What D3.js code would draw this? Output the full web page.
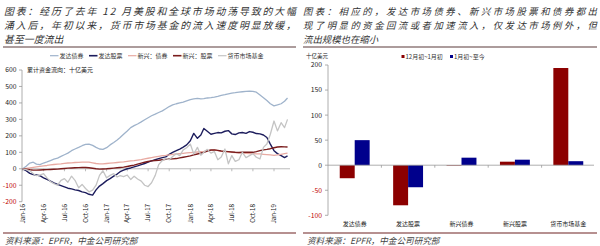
<!DOCTYPE html>
<html>
<head>
<meta charset="utf-8">
<script src="https://cdn.jsdelivr.net/npm/d3@7"></script>
<style>
body { margin: 0; background: #fff; }
text { font-family: "Noto Sans CJK SC", "Noto Sans", sans-serif; }
</style>
</head>
<body>
<svg id="chart" width="600" height="246"></svg>
<script>
// ---- data: left panel, cumulative flows (bn USD), half-month points Jan-16 .. Mar-19
var dates = d3.range(77).map(function(i){ return new Date(2016, Math.floor(i / 2), i % 2 ? 16 : 1); });

var dmBond = [0,15,35,40,28,25,35,42,50,58,65,75,85,95,110,120,130,140,148,150,
  142,130,120,118,128,145,160,175,190,210,230,250,262,272,285,298,310,322,332,342,
  352,365,378,388,395,400,405,412,420,425,428,424,426,430,432,435,440,446,450,455,
  460,462,466,468,470,472,470,465,448,432,415,395,382,388,395,410,430];
var dmEquity = [0,-12,-28,-35,-38,-42,-55,-65,-75,-85,-95,-102,-110,-118,-122,-128,-132,-140,-145,-155,
  -160,-128,-105,-90,-72,-60,-45,-32,-18,-8,0,5,12,18,25,32,40,48,55,62,
  68,72,88,100,110,120,132,145,170,215,185,205,245,228,210,215,220,218,228,232,
  212,208,218,220,215,226,222,214,212,205,190,150,110,92,80,68,78];
var emBond = [0,3,6,9,12,15,18,20,24,26,28,30,33,35,36,38,39,40,41,40,
  36,32,30,30,32,34,36,38,40,42,45,48,50,53,56,60,64,68,72,76,
  80,82,85,88,90,92,94,96,98,100,102,104,106,110,112,114,110,106,104,102,
  100,98,96,95,94,92,92,91,90,88,86,84,82,84,88,92,95];
var emEquity = [0,-3,-6,-8,-8,-7,-6,-5,-4,-3,-2,0,2,4,5,6,7,8,8,6,
  3,0,-2,-1,0,2,4,6,8,10,14,18,22,28,34,40,44,48,50,52,
  55,57,59,60,62,66,70,74,78,84,90,96,100,108,114,115,112,108,106,104,
  102,100,99,100,101,100,100,104,110,115,118,122,128,132,134,133,132];
var mmf = [0,-5,-12,-30,-42,-38,-30,-55,-78,-90,-100,-70,-60,-82,-45,-70,-115,-95,-120,-140,
  -130,-100,-40,-12,-55,-40,-30,-50,-42,-48,-38,-65,-45,-62,-75,-100,-108,-85,-40,25,
  50,62,55,75,92,80,115,128,150,90,130,82,100,118,95,105,55,72,120,30,
  80,45,55,100,68,80,92,70,60,130,150,210,290,230,280,250,300];

var lineNames = ["发达债券", "发达股票", "新兴：债券", "新兴：股票", "货币市场基金"];
var lineColors = ["#9fb3cb", "#1c1c5c", "#e8aaa2", "#7a1c1c", "#c4c4c4"];
var lineValues = [dmBond, dmEquity, emBond, emEquity, mmf];
var leftTicks = [-200, -100, 0, 100, 200, 300, 400, 500, 600];
var xTickLabels = ["Jan-16","Apr-16","Jul-16","Oct-16","Jan-17","Apr-17","Jul-17",
  "Oct-17","Jan-18","Apr-18","Jul-18","Oct-18","Jan-19"];

// ---- data: right panel, flows by asset class (bn USD)
var categories = ["发达债券", "发达股票", "新兴债券", "新兴股票", "货币市场基金"];
var periods = ["12月初~1月初", "1月初~至今"];
var decToJan = [-26, -80, -1, 7, 194];
var janToNow = [50, -44, 15, 11, 8];
var barColors = ["#8c0000", "#00008c"];
var rightTicks = [-100, -50, 0, 50, 100, 150, 200];

var svg = d3.select("#chart");
var red = "#c00000";

// ---- headers
function header(x0, lines, size, width){
  lines.forEach(function(s, i){
    var t = svg.append("text")
      .attr("x", x0).attr("y", 14.5 + i * 14.4)
      .attr("font-size", size).attr("font-style", "italic")
      .attr("fill", "#333").text(s);
    if(i < lines.length - 1){
      t.attr("textLength", width).attr("lengthAdjust", "spacing");
    }
  });
}
header(4, ["图表：经历了去年 12 月美股和全球市场动荡导致的大幅",
           "涌入后，年初以来，货币市场基金的流入速度明显放缓，",
           "甚至一度流出"], 9.9, 292);
header(303, ["图表：相应的，发达市场债券、新兴市场股票和债券都出",
             "现了明显的资金回流或者加速流入，仅发达市场例外，但",
             "流出规模也在缩小"], 9.4, 294);

svg.append("line").attr("x1", 3).attr("x2", 296).attr("y1", 47).attr("y2", 47)
  .attr("stroke", "#5a3a3a").attr("stroke-width", 1.2);
svg.append("line").attr("x1", 303).attr("x2", 597).attr("y1", 47).attr("y2", 47)
  .attr("stroke", "#5a3a3a").attr("stroke-width", 1.2);

// ---- footers
[[3, 296, 5], [303, 597, 307]].forEach(function(f){
  svg.append("line").attr("x1", f[0]).attr("x2", f[1]).attr("y1", 233).attr("y2", 233)
    .attr("stroke", "#6e2222").attr("stroke-width", 1.2);
  svg.append("text").attr("x", f[2]).attr("y", 243.5)
    .attr("font-size", 8.6).attr("font-style", "italic").attr("fill", "#444")
    .text("资料来源：EPFR，中金公司研究部");
});

// ---- left panel
var x = d3.scaleTime().domain([new Date(2016, 0, 1), new Date(2019, 0, 1)]).range([22.7, 274]);
var y = d3.scaleLinear().domain([-200, 600]).range([201.7, 70]);
var left = svg.append("g");

left.append("line").attr("x1", 22).attr("x2", 22).attr("y1", y(600)).attr("y2", y(-200))
  .attr("stroke", "#999").attr("stroke-width", 0.8);
leftTicks.forEach(function(t){
  left.append("line").attr("x1", 19).attr("x2", 22).attr("y1", y(t)).attr("y2", y(t))
    .attr("stroke", "#999").attr("stroke-width", 0.8);
  left.append("text").attr("x", 16.5).attr("y", y(t) + 2.4)
    .attr("text-anchor", "end").attr("font-size", 6.8)
    .attr("fill", t < 0 ? red : "#222").text(t);
});

left.append("line").attr("x1", 22).attr("x2", 290).attr("y1", y(0)).attr("y2", y(0))
  .attr("stroke", "#aaa").attr("stroke-width", 0.8);
xTickLabels.forEach(function(lbl, i){
  var px = x(new Date(2016, i * 3, 1));
  left.append("line").attr("x1", px).attr("x2", px).attr("y1", y(0)).attr("y2", y(0) + 2.5)
    .attr("stroke", "#aaa").attr("stroke-width", 0.8);
  left.append("text")
    .attr("transform", "translate(" + (px + 2.2) + ",204) rotate(-90)")
    .attr("text-anchor", "end").attr("font-size", 6.2).attr("fill", "#222")
    .text(lbl);
});

var line = d3.line()
  .x(function(d, i){ return x(dates[i]); })
  .y(function(d){ return y(d); });
lineValues.forEach(function(vals, k){
  left.append("path").attr("d", line(vals))
    .attr("fill", "none").attr("stroke", lineColors[k])
    .attr("stroke-width", k === 1 || k === 3 ? 1.4 : 1.3)
    .attr("stroke-linejoin", "round");
});

left.append("text").attr("x", 27).attr("y", 72.2).attr("font-size", 6).attr("fill", "#222")
  .text("累计资金流向：十亿美元");

var legX = [50, 89, 128, 173, 218];
lineNames.forEach(function(n, k){
  left.append("line").attr("x1", legX[k]).attr("x2", legX[k] + 8.5)
    .attr("y1", 55.7).attr("y2", 55.7)
    .attr("stroke", lineColors[k]).attr("stroke-width", k === 1 || k === 3 ? 1.6 : 1.2);
  left.append("text").attr("x", legX[k] + 9.5).attr("y", 57.8)
    .attr("font-size", 6).attr("fill", "#333").text(n);
});

// ---- right panel
var x0 = d3.scaleBand().domain(categories).range([328, 595])
  .paddingInner(0.44).paddingOuter(0.22);
var x1 = d3.scaleBand().domain(periods).range([0, x0.bandwidth()]);
var yr = d3.scaleLinear().domain([-100, 200]).range([215.3, 65]);
var right = svg.append("g");

right.append("line").attr("x1", 328).attr("x2", 328).attr("y1", yr(200)).attr("y2", yr(-100))
  .attr("stroke", "#999").attr("stroke-width", 0.8);
rightTicks.forEach(function(t){
  right.append("line").attr("x1", 325).attr("x2", 328).attr("y1", yr(t)).attr("y2", yr(t))
    .attr("stroke", "#999").attr("stroke-width", 0.8);
  right.append("text").attr("x", 322).attr("y", yr(t) + 2.4)
    .attr("text-anchor", "end").attr("font-size", 6.8)
    .attr("fill", t < 0 ? red : "#222").text(t);
});

var seriesVals = [decToJan, janToNow];
categories.forEach(function(c, i){
  periods.forEach(function(p, k){
    var v = seriesVals[k][i];
    right.append("rect")
      .attr("x", x0(c) + x1(p)).attr("width", x1.bandwidth())
      .attr("y", yr(Math.max(0, v))).attr("height", Math.abs(yr(v) - yr(0)))
      .attr("fill", barColors[k]);
  });
  right.append("text").attr("x", x0(c) + x0.bandwidth() / 2).attr("y", 225.5)
    .attr("text-anchor", "middle").attr("font-size", 6).attr("fill", "#222").text(c);
});

right.append("line").attr("x1", 328).attr("x2", 594).attr("y1", yr(0)).attr("y2", yr(0))
  .attr("stroke", "#999").attr("stroke-width", 0.8);
var step = x0.step();
d3.range(1, categories.length).forEach(function(i){
  var px = 328 + step * i;
  right.append("line").attr("x1", px).attr("x2", px).attr("y1", yr(0)).attr("y2", yr(0) + 2.5)
    .attr("stroke", "#999").attr("stroke-width", 0.8);
});

right.append("text").attr("x", 306).attr("y", 57.6).attr("font-size", 5.5).attr("fill", "#222")
  .text("十亿美元");
var lgX = [401.5, 450];
periods.forEach(function(p, k){
  right.append("rect").attr("x", lgX[k]).attr("y", 55).attr("width", 3).attr("height", 3)
    .attr("fill", barColors[k]);
  right.append("text").attr("x", lgX[k] + 4).attr("y", 58.8).attr("font-size", 6)
    .attr("fill", "#333").text(p);
});
</script>
</body>
</html>
